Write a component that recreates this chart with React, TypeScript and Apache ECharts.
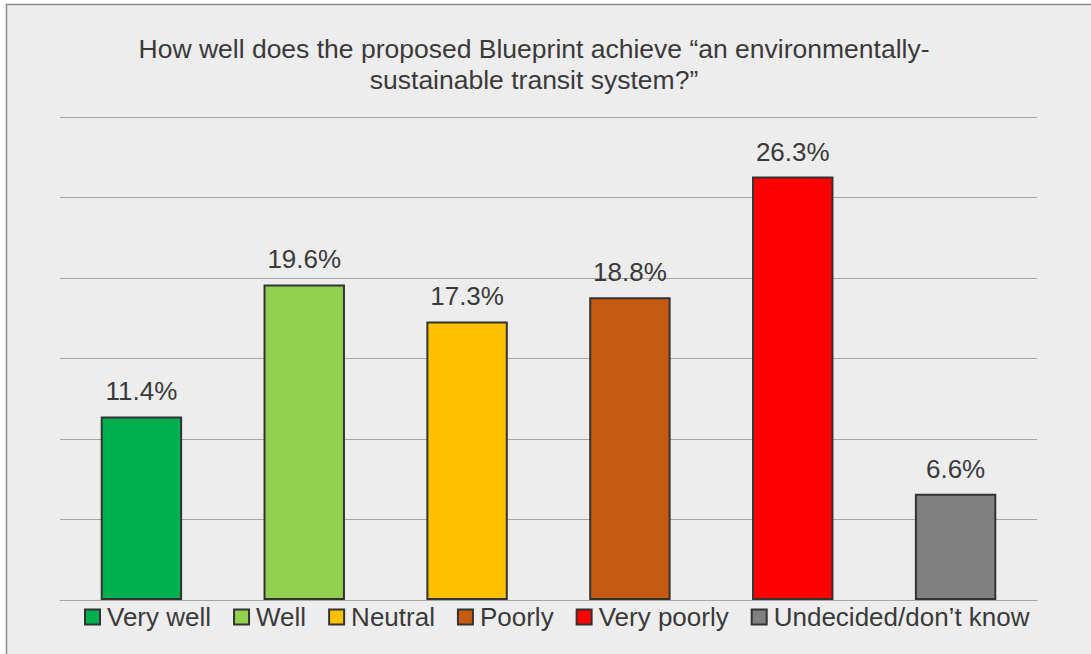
import React, { useEffect, useRef } from "react";
import * as echarts from "echarts";

// Survey responses and their share of respondents (%)
const categories = ["Very well", "Well", "Neutral", "Poorly", "Very poorly", "Undecided/don\u2019t know"];
const values = [11.4, 19.6, 17.3, 18.8, 26.3, 6.6];
const colors = ["#00B050", "#92D050", "#FFC000", "#C55A11", "#FF0000", "#808080"];
const titleLines = [
  "How well does the proposed Blueprint achieve \u201Can environmentally-",
  "sustainable transit system?\u201D",
];

const FONT = "'Liberation Sans', Arial, Helvetica, sans-serif";
const TEXT = "#3a3a3a";

export default function App() {
  const ref = useRef<HTMLDivElement>(null);

  useEffect(() => {
    if (!ref.current) return;
    const chart = echarts.init(ref.current, null, { renderer: "svg" });

    // One series per response so each gets its own legend entry; they overlap per category.
    const series = categories.map((name, i) => ({
      name,
      type: "bar",
      barWidth: "50%",
      barGap: "-100%",
      data: categories.map((_, j) => (j === i ? values[i] : "-")),
      itemStyle: { color: colors[i], borderColor: "#333333", borderWidth: 2 },
      label: {
        show: true,
        position: "top",
        distance: 12,
        formatter: "{c}%",
        fontFamily: FONT,
        fontSize: 26,
        color: TEXT,
      },
    }));

    chart.setOption({
      animation: false,
      textStyle: { fontFamily: FONT },
      graphic: [
        {
          type: "rect",
          z: -10,
          silent: true,
          shape: { x: 6.5, y: 4.5, width: 1200, height: 800 },
          style: { fill: "#EDEDED", stroke: "#8C8C8C", lineWidth: 1.5 },
        },
        {
          type: "text",
          z: 10,
          x: 534,
          y: 33,
          style: {
            text: titleLines.join("\n"),
            textAlign: "center",
            fontFamily: FONT,
            fontSize: 26.5,
            lineHeight: 31,
            fill: TEXT,
          },
        },
      ],
      grid: { left: 60, right: 54, top: 117, bottom: 54 },
      legend: {
        data: categories,
        left: 84,
        top: 604,
        padding: 0,
        icon: "rect",
        itemWidth: 15,
        itemHeight: 15,
        itemGap: 22,
        textStyle: { fontFamily: FONT, fontSize: 26, color: TEXT, padding: [0, 0, 0, 2] },
      },
      xAxis: {
        type: "category",
        data: categories,
        axisLine: { show: true, lineStyle: { color: "#A6A6A6", width: 1 } },
        axisTick: { show: false },
        axisLabel: { show: false },
      },
      yAxis: {
        type: "value",
        min: 0,
        max: 30,
        interval: 5,
        axisLine: { show: false },
        axisTick: { show: false },
        axisLabel: { show: false },
        splitLine: { lineStyle: { color: "#A6A6A6", width: 1 } },
      },
      series,
    });

    return () => chart.dispose();
  }, []);

  return (
    <div
      ref={ref}
      style={{ position: "absolute", left: 0, top: 0, width: 1091, height: 654 }}
    />
  );
}
